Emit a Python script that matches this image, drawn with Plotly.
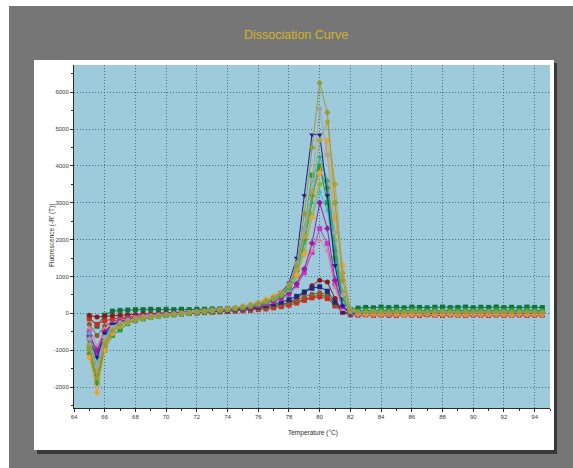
import plotly.graph_objects as go

# Melt temperatures (°C), one reading every 0.5 degree
temperature = [
    65.0, 65.5, 66.0, 66.5, 67.0, 67.5, 68.0, 68.5, 69.0, 69.5,
    70.0, 70.5, 71.0, 71.5, 72.0, 72.5, 73.0, 73.5, 74.0, 74.5,
    75.0, 75.5, 76.0, 76.5, 77.0, 77.5, 78.0, 78.5, 79.0, 79.5,
    80.0, 80.5, 81.0, 81.5, 82.0, 82.5, 83.0, 83.5, 84.0, 84.5,
    85.0, 85.5, 86.0, 86.5, 87.0, 87.5, 88.0, 88.5, 89.0, 89.5,
    90.0, 90.5, 91.0, 91.5, 92.0, 92.5, 93.0, 93.5, 94.0, 94.5,
]

# -R'(T) for each well
well_olive = [
    -950, -1750, -820, -470, -320, -230, -170, -130, -100, -70,
    -50, -30, -10, 10, 30, 50, 70, 90, 110, 140,
    170, 210, 260, 320, 400, 520, 750, 1300, 2700, 4500,
    6250, 5450, 3000, 900, 60, 20, 35, 25, 30, 15,
    30, 25, 35, 20, 25, 30, 20, 35, 25, 30,
    20, 30, 25, 35, 20, 30, 25, 30, 20, 25,
]
well_gray = [
    -700, -1450, -650, -380, -260, -190, -140, -100, -80, -60,
    -40, -20, 0, 20, 40, 60, 80, 100, 120, 150,
    180, 220, 270, 330, 410, 540, 780, 1350, 2300, 3600,
    5550, 4300, 2200, 500, 40, 30, 20, 40, 30, 20,
    35, 25, 40, 30, 20, 30, 40, 25, 30, 35,
    20, 30, 40, 25, 30, 20, 35, 30, 25, 30,
]
well_khaki = [
    -850, -1600, -750, -420, -290, -210, -150, -110, -80, -60,
    -40, -20, 0, 20, 40, 60, 80, 100, 130, 160,
    190, 230, 280, 340, 420, 540, 760, 1200, 2100, 3300,
    4700, 5200, 3500, 1100, 100, 30, 20, 25, 15, 30,
    20, 25, 30, 15, 20, 25, 30, 20, 15, 25,
    30, 20, 25, 15, 30, 20, 25, 20, 30, 15,
]
well_blue = [
    -750, -1200, -550, -300, -240, -180, -140, -110, -90, -70,
    -50, -30, -10, 10, 30, 50, 70, 90, 110, 140,
    170, 210, 260, 330, 420, 560, 820, 1500, 3200, 4850,
    4850, 3200, 1300, 200, 0, 20, 10, 30, 15, 25,
    10, 30, 20, 15, 25, 10, 30, 20, 25, 15,
    30, 10, 25, 20, 15, 30, 20, 10, 25, 20,
]
well_orange = [
    -1200, -2150, -1000, -550, -350, -250, -180, -130, -100, -70,
    -50, -30, -10, 10, 30, 50, 70, 90, 120, 150,
    190, 240, 300, 380, 470, 580, 760, 1050, 1600, 2600,
    3800, 4700, 2600, 1300, 80, -20, -30, -25, -35, -20,
    -30, -40, -25, -30, -20, -35, -30, -25, -40, -30,
    -20, -30, -35, -25, -30, -40, -20, -30, -25, -35,
]
well_green = [
    -900, -1880, -1000, -600, -450, -280, -200, -150, -110, -80,
    -60, -40, -20, 0, 20, 40, 60, 80, 100, 130,
    160, 200, 250, 310, 390, 500, 700, 1200, 2300, 3750,
    4000, 3000, 1500, 400, 20, 60, 80, 70, 90, 75,
    85, 70, 90, 80, 75, 90, 70, 85, 80, 90,
    75, 85, 70, 90, 80, 85, 75, 90, 80, 70,
]
well_teal = [
    -800, -1500, -700, -400, -270, -200, -150, -110, -80, -60,
    -40, -20, 0, 20, 40, 60, 80, 100, 120, 150,
    180, 220, 270, 330, 400, 500, 680, 1100, 1900, 3000,
    4250, 3600, 1800, 500, 50, 30, 40, 25, 35, 30,
    40, 30, 25, 40, 35, 30, 40, 25, 30, 35,
    40, 30, 35, 25, 40, 30, 35, 40, 30, 25,
]
well_purple = [
    -600, -1000, -500, -300, -220, -170, -130, -100, -80, -60,
    -40, -30, -10, 10, 30, 50, 60, 80, 100, 120,
    150, 180, 220, 270, 330, 420, 560, 800, 1200, 1900,
    3000, 2300, 900, 200, 0, -10, 10, 0, 15, -5,
    10, 5, 0, 15, 5, 10, -5, 10, 0, 15,
    5, 10, 0, 5, 15, 0, 10, 5, 0, 10,
]
well_lime = [
    -1000, -1650, -850, -450, -300, -220, -160, -120, -90, -70,
    -50, -30, -10, 10, 30, 50, 70, 90, 110, 140,
    170, 200, 250, 310, 380, 480, 640, 1000, 1700, 2700,
    3500, 3600, 2000, 600, 60, 40, 50, 35, 45, 40,
    50, 40, 35, 50, 45, 40, 50, 35, 40, 45,
    50, 40, 45, 35, 50, 40, 45, 50, 40, 35,
]
well_magenta = [
    -500, -1100, -480, -290, -210, -160, -120, -90, -70, -50,
    -30, -20, 0, 20, 30, 50, 70, 80, 100, 120,
    140, 170, 210, 260, 320, 400, 520, 750, 1100, 1650,
    2300, 1900, 800, 150, -10, -20, -10, -15, -5, -20,
    -10, -15, -20, -5, -10, -20, -15, -10, -5, -15,
    -20, -10, -15, -5, -20, -10, -15, -20, -10, -5,
]
well_darkred = [
    -50, -100, -80, -60, -50, -40, -30, -20, -20, -10,
    0, 10, 20, 30, 40, 50, 60, 70, 80, 90,
    100, 120, 140, 170, 200, 240, 300, 400, 560, 750,
    900, 850, 400, 50, -40, -30, -40, -35, -30, -45,
    -35, -40, -30, -45, -35, -30, -40, -35, -45, -30,
    -40, -35, -30, -45, -40, -35, -30, -40, -35, -45,
]
well_red = [
    -150, -300, -200, -150, -120, -100, -80, -60, -50, -40,
    -30, -20, -10, 0, 10, 20, 30, 40, 50, 60,
    70, 80, 100, 120, 150, 180, 220, 280, 350, 420,
    450, 400, 200, 20, -40, -50, -40, -55, -45, -50,
    -60, -45, -50, -55, -40, -50, -60, -45, -50, -55,
    -45, -50, -60, -40, -55, -50, -45, -60, -50, -45,
]
well_navy = [
    -650, -1100, -600, -350, -250, -190, -140, -110, -80, -60,
    -40, -30, -10, 10, 20, 40, 50, 70, 80, 100,
    120, 140, 170, 210, 250, 300, 370, 460, 580, 680,
    720, 600, 300, 50, 10, 0, 10, 5, 15, 0,
    10, 5, 15, 10, 0, 5, 10, 15, 5, 0,
    10, 15, 5, 10, 0, 15, 5, 10, 15, 5,
]
well_darkgreen = [
    -100, -350, -50, 60, 80, 90, 100, 100, 110, 100,
    110, 100, 110, 100, 110, 110, 120, 120, 130, 130,
    140, 150, 160, 180, 200, 230, 270, 320, 380, 450,
    500, 450, 250, 120, 100, 140, 160, 150, 170, 155,
    165, 150, 170, 160, 150, 165, 170, 155, 160, 170,
    150, 165, 160, 170, 155, 165, 150, 170, 160, 155,
]
well_brown = [
    -300, -600, -350, -220, -160, -120, -90, -70, -50, -40,
    -30, -20, -10, 0, 10, 20, 30, 40, 50, 60,
    80, 100, 120, 150, 190, 230, 290, 360, 440, 520,
    560, 500, 260, 40, 0, -10, -20, -15, -10, -25,
    -15, -20, -10, -25, -15, -20, -10, -15, -25, -20,
    -10, -15, -20, -25, -10, -20, -15, -10, -25, -20,
]
well_pink = [
    -400, -900, -420, -260, -190, -150, -110, -80, -60, -40,
    -30, -10, 0, 20, 30, 50, 60, 80, 100, 120,
    140, 170, 210, 260, 320, 410, 540, 800, 1200, 1700,
    2000, 1700, 700, 100, -20, -30, -20, -35, -25, -30,
    -20, -35, -25, -30, -20, -25, -35, -30, -20, -25,
    -30, -20, -35, -25, -30, -20, -25, -35, -30, -20,
]
well_cyan = [
    -550, -1300, -600, -350, -240, -180, -140, -100, -80, -60,
    -40, -20, 0, 20, 30, 50, 70, 90, 110, 130,
    160, 200, 240, 300, 370, 460, 620, 980, 1700, 2600,
    3300, 2800, 1400, 350, 30, 20, 30, 15, 25, 20,
    30, 20, 15, 25, 30, 20, 25, 15, 30, 20,
    25, 30, 20, 15, 25, 30, 20, 25, 15, 30,
]
well_moss = [
    -1100, -1900, -900, -500, -330, -240, -180, -130, -100, -70,
    -50, -30, -10, 10, 30, 50, 70, 90, 110, 140,
    170, 210, 260, 320, 400, 510, 700, 1150, 2000, 3200,
    3900, 3400, 1700, 450, 40, 30, 40, 35, 45, 30,
    40, 35, 45, 30, 40, 35, 30, 45, 40, 35,
    30, 40, 45, 35, 30, 40, 35, 45, 30, 40,
]

x_ticks = [64, 66, 68, 70, 72, 74, 76, 78, 80, 82, 84, 86, 88, 90, 92, 94]
y_ticks = [-2000, -1000, 0, 1000, 2000, 3000, 4000, 5000, 6000]

wells = [
    (well_darkgreen, "#12703a", "square"),
    (well_red, "#d42a1e", "square"),
    (well_darkred, "#8a1a1a", "circle"),
    (well_brown, "#8c5a2c", "circle"),
    (well_navy, "#222a78", "square"),
    (well_magenta, "#c03cc0", "square"),
    (well_pink, "#e07c9c", "triangle-up"),
    (well_purple, "#9a1e9e", "diamond"),
    (well_cyan, "#3cb8d8", "triangle-up"),
    (well_lime, "#78bc3c", "circle"),
    (well_moss, "#6c8c22", "diamond"),
    (well_green, "#1e9e3c", "square"),
    (well_teal, "#1ea8a0", "triangle-up"),
    (well_orange, "#f4a030", "diamond"),
    (well_blue, "#1a1a8c", "triangle-down"),
    (well_khaki, "#b4a23c", "diamond"),
    (well_gray, "#a2a2a2", "circle"),
    (well_olive, "#9a9a3a", "diamond"),
]

fig = go.Figure()
for values, color, symbol in wells:
    fig.add_trace(go.Scatter(
        x=temperature, y=values, mode="lines+markers",
        line=dict(color=color, width=1),
        marker=dict(color=color, symbol=symbol, size=5),
        showlegend=False, hoverinfo="skip",
    ))

W, H = 573, 468
L, R, T, B = 74, 550, 65, 408  # plot area in pixels


def px(x):
    return (x - L) / (R - L)


def py(y):
    return (B - y) / (B - T)


def frame_rect(x0, x1, y0, y1, color):
    return dict(type="rect", xref="paper", yref="paper",
                x0=px(x0), x1=px(x1), y0=py(y1), y1=py(y0),
                fillcolor=color, line=dict(width=0), layer="below")


shapes = [
    # white edges of the frame
    frame_rect(0, W, 0, 6, "#ffffff"),
    frame_rect(0, 9, 0, H, "#ffffff"),
    # panel shadow and panel
    frame_rect(37, 557, 63, 454, "#383838"),
    frame_rect(34, 554, 60, 450, "#ffffff"),
    # plot background
    frame_rect(L, R, T, B, "#9dcbdb"),
]

narrow = "Liberation Sans Narrow, Liberation Sans, Arial"
tick_font = dict(family=narrow, size=6, color="#3a3a3a")
label_font = dict(family=narrow, size=6.5, color="#2a2a2a")

annotations = [
    dict(text="Temperature (°C)", xref="paper", yref="paper",
         x=px(313), y=py(433), xanchor="center", yanchor="middle",
         showarrow=False, font=label_font),
    dict(text="Fluorescence (-R' (T))", xref="paper", yref="paper",
         x=px(52), y=py(236), xanchor="center", yanchor="middle",
         textangle=-90, showarrow=False, font=label_font),
]

grid_style = dict(showgrid=True, gridcolor="rgba(50,80,95,0.75)", griddash="1px,2px", gridwidth=1)

fig.update_layout(
    width=W, height=H,
    margin=dict(l=L, r=W - R, t=T, b=H - B),
    paper_bgcolor="#767676",
    plot_bgcolor="rgba(0,0,0,0)",
    shapes=shapes,
    annotations=annotations,
    title=dict(
        text="Dissociation Curve",
        x=296 / W, xanchor="center", y=1 - 35 / H, yanchor="middle",
        font=dict(family=narrow, size=12.5, color="#d2b42a"),
    ),
    xaxis=dict(
        range=[64, 95], tickvals=x_ticks, ticktext=[str(v) for v in x_ticks],
        **grid_style,
        zeroline=False, showline=True, linecolor="#2a2a2a", linewidth=1,
        ticks="outside", ticklen=3, tickcolor="#2a2a2a",
        minor=dict(dtick=1, ticks="outside", ticklen=2, tickcolor="#2a2a2a", showgrid=False),
        tickfont=tick_font,
    ),
    yaxis=dict(
        range=[-2570, 6740], tickvals=y_ticks, ticktext=[str(v) for v in y_ticks],
        **grid_style,
        zeroline=False, showline=True, linecolor="#2a2a2a", linewidth=1,
        ticks="outside", ticklen=3, tickcolor="#2a2a2a",
        minor=dict(dtick=500, ticks="outside", ticklen=2, tickcolor="#2a2a2a", showgrid=False),
        tickfont=tick_font, ticklabelstandoff=0,
    ),
)

fig.write_html("out.html")
